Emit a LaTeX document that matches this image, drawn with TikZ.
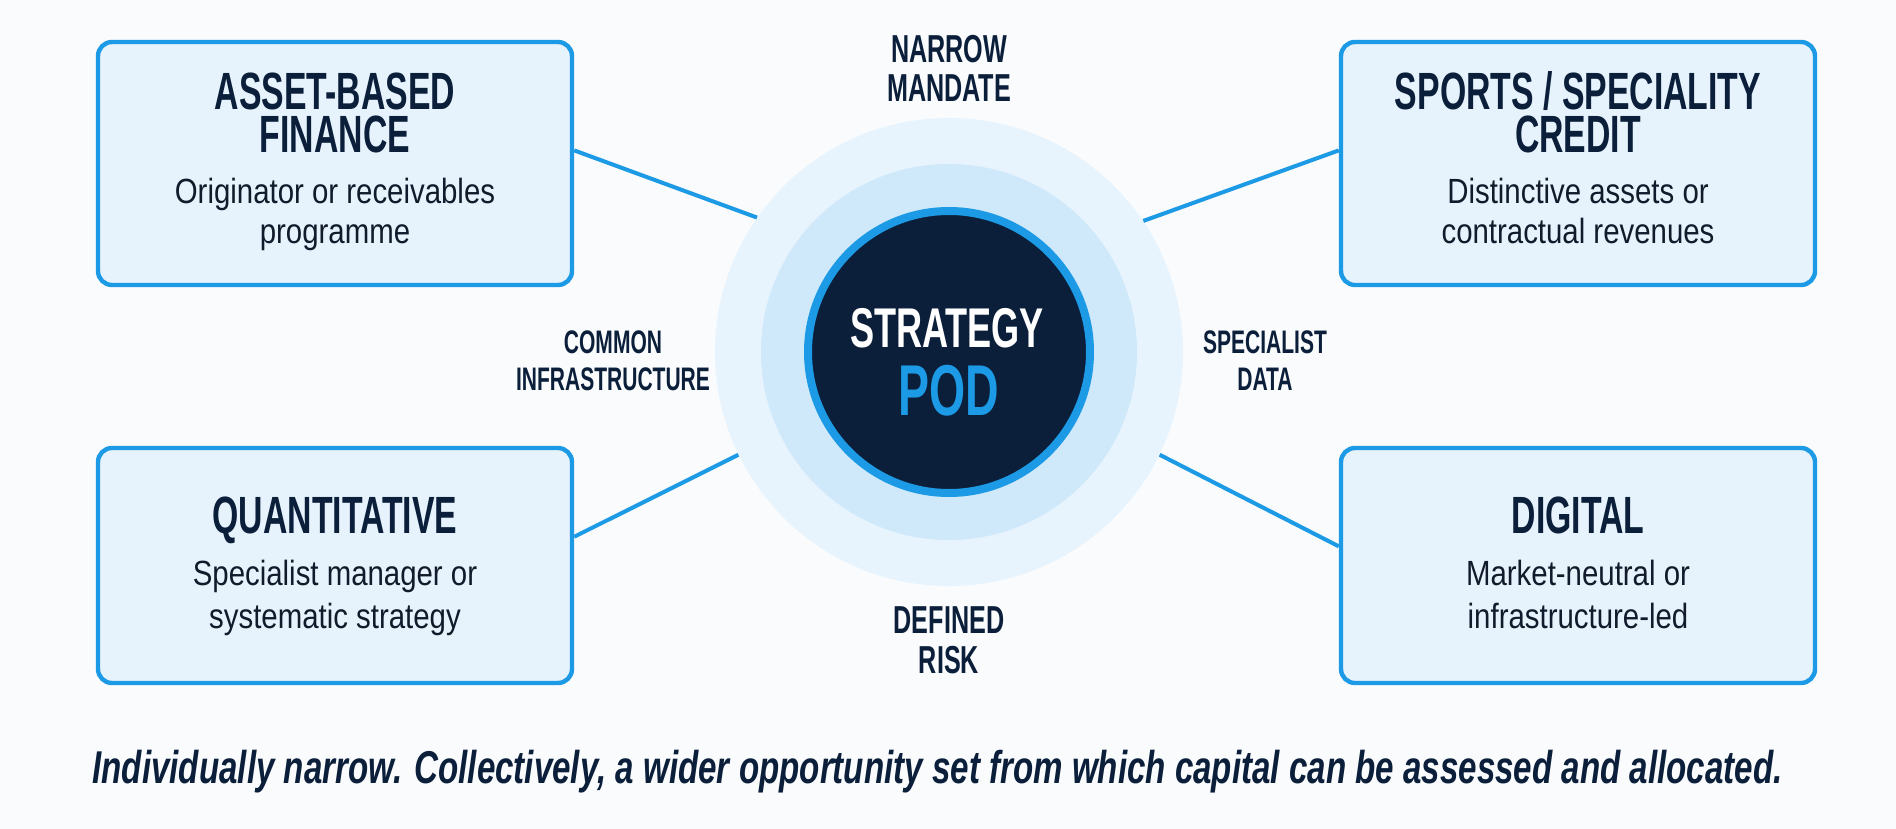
\documentclass[tikz,border=0pt]{standalone}
\usepackage{fontspec}
\usetikzlibrary{calc}
\setmainfont{Liberation Sans}
\newfontfamily\headfont[FakeStretch=0.645]{Liberation Sans}
\newfontfamily\capfont[FakeStretch=0.72]{Liberation Sans}
\newfontfamily\subfont[FakeStretch=0.84]{Liberation Sans}
\definecolor{navy}{HTML}{0B1F3B}
\definecolor{brandblue}{HTML}{1C9AE5}
\definecolor{boxfill}{HTML}{E7F3FC}
\definecolor{ringout}{HTML}{E8F4FD}
\definecolor{ringmid}{HTML}{CFE8FA}
\definecolor{bgcol}{HTML}{F9FBFC}
\definecolor{subcol}{HTML}{111B2B}
\begin{document}
\begin{tikzpicture}[x=0.5pt,y=-0.5pt,
  card/.style={draw=brandblue,line width=2.2pt,fill=boxfill,rounded corners=7pt,minimum width=237pt,inner sep=0pt},
  ttl/.style={anchor=base,inner sep=0pt,text height=0.72em,text depth=0pt,text=navy,font=\headfont\bfseries\fontsize{26.2}{26.2}\selectfont},
  sub/.style={anchor=base,inner sep=0pt,text height=0.72em,text depth=0.2em,text=subcol,font=\subfont\fontsize{17.5}{17.5}\selectfont},
  lblbig/.style={anchor=base,inner sep=0pt,text height=0.72em,text depth=0pt,text=navy,font=\headfont\bfseries\fontsize{19.5}{19.5}\selectfont},
  lblsmall/.style={anchor=base,inner sep=0pt,text height=0.72em,text depth=0pt,text=navy,font=\headfont\bfseries\fontsize{16.3}{16.3}\selectfont},
  link/.style={draw=brandblue,line width=2pt}]
\fill[bgcol] (0,0) rectangle (1896,829);
\useasboundingbox (0,0) rectangle (1896,829);
% central rings
\node[circle,fill=ringout,minimum size=234pt,inner sep=0pt] (ring) at (949,352) {};
\node[circle,fill=ringmid,minimum size=188pt,inner sep=0pt] (mid) at (949,352) {};
\node[circle,fill=navy,draw=brandblue,line width=4pt,minimum size=141pt,inner sep=0pt] (pod) at (949,352) {};
\node[anchor=base,inner sep=0pt,text height=0.72em,text depth=0pt,text=white,font=\headfont\bfseries\fontsize{28}{28}\selectfont] (podA) at (947,347) {STRATEGY};
\node[anchor=base,inner sep=0pt,text height=0.72em,text depth=0pt,text=brandblue,font=\headfont\bfseries\fontsize{36}{36}\selectfont] (podB) at (949,415) {POD};
% cards
\node[card,minimum height=121.5pt] (abf) at (335,163.5) {};
\node[card,minimum height=121.5pt] (spc) at (1578,163.5) {};
\node[card,minimum height=117.5pt] (qnt) at (335,565.5) {};
\node[card,minimum height=117.5pt] (dig) at (1578,565.5) {};
% connectors
\draw[link] ($(abf.north east)!0.447!(abf.south east)$) -- (ring.145);
\draw[link] ($(spc.north west)!0.447!(spc.south west)$) -- (ring.34);
\draw[link] ($(qnt.north east)!0.38!(qnt.south east)$) -- (ring.206);
\draw[link] ($(dig.north west)!0.42!(dig.south west)$) -- (ring.-26);
% card texts
\node[ttl] (abfA) at (335,110) {ASSET-BASED};
\node[ttl] (abfB) at (335,153) {FINANCE};
\node[sub] (abfC) at (335,203) {Originator or receivables};
\node[sub] (abfD) at (335,243) {programme};
\node[ttl] (spcA) at (1578,110) {SPORTS / SPECIALITY};
\node[ttl] (spcB) at (1578,153) {CREDIT};
\node[sub] (spcC) at (1578,203) {Distinctive assets or};
\node[sub] (spcD) at (1578,243) {contractual revenues};
\node[ttl] (qntA) at (335,533) {QUANTITATIVE};
\node[sub] (qntC) at (335,585) {Specialist manager or};
\node[sub] (qntD) at (335,628) {systematic strategy};
\node[ttl] (digA) at (1578,533) {DIGITAL};
\node[sub] (digC) at (1578,585) {Market-neutral or};
\node[sub] (digD) at (1578,628) {infrastructure-led};
% ring labels
\node[lblbig] (nmA) at (949,63) {NARROW};
\node[lblbig] (nmB) at (949,102) {MANDATE};
\node[lblsmall] (ciA) at (613,353) {COMMON};
\node[lblsmall] (ciB) at (613,390) {INFRASTRUCTURE};
\node[lblsmall] (sdA) at (1265,353) {SPECIALIST};
\node[lblsmall] (sdB) at (1265,390) {DATA};
\node[lblbig] (drA) at (949,633) {DEFINED};
\node[lblbig] (drB) at (949,673) {RISK};
% caption
\node[anchor=base west,inner sep=0pt,text=navy,font=\capfont\bfseries\itshape\fontsize{23}{23}\selectfont] (cap) at (92,783) {Individually narrow. Collectively, a wider opportunity set from which capital can be assessed and allocated.};
\end{tikzpicture}
\end{document}
